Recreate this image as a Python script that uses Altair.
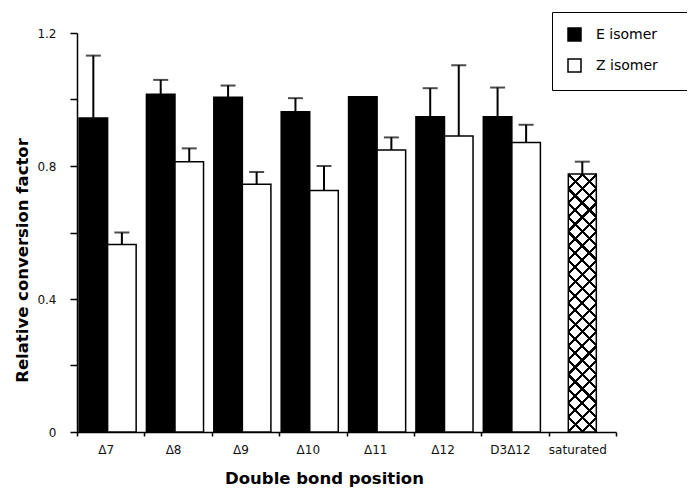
import altair as alt
import pandas as pd

# ---- data ----
positions = ["Δ7", "Δ8", "Δ9", "Δ10", "Δ11", "Δ12", "D3Δ12"]
e_values = [0.944, 1.016, 1.007, 0.963, 1.008, 0.948, 0.948]
e_upper = [1.132, 1.059, 1.042, 1.004, None, 1.034, 1.036]
z_values = [0.564, 0.813, 0.745, 0.726, 0.848, 0.890, 0.871]
z_upper = [0.600, 0.853, 0.782, 0.800, 0.886, 1.103, 0.924]
sat_label = ["saturated"]
sat_value = [0.776]
sat_upper = [0.813]
categories = positions + sat_label
isomers = ["E isomer", "Z isomer"]
y_ticks = [0.0, 0.1, 0.2, 0.3, 0.4, 0.5, 0.6, 0.7, 0.8, 0.9, 1.0, 1.1, 1.2]

rows = []
for p, v, u in zip(positions, e_values, e_upper):
    rows.append({"pos": p, "isomer": isomers[0], "value": v, "upper": u})
for p, v, u in zip(positions, z_values, z_upper):
    rows.append({"pos": p, "isomer": isomers[1], "value": v, "upper": u})
df = pd.DataFrame(rows)
sat_df = pd.DataFrame({"pos": sat_label, "value": sat_value, "upper": sat_upper})

FONT = "DejaVu Sans"
YTITLE = "Relative conversion factor"

# ---- crosshatch fill built from two striped gradients ----
def stripe_stops(n, lw, bg, fg):
    st = [(0.0, bg)]
    for k in range(n + 1):
        c = k / n
        s, e = max(0.0, c - lw / 2), min(1.0, c + lw / 2)
        st += [(s, bg), (s, fg), (e, fg), (e, bg)]
    st.append((1.0, bg))
    return [alt.GradientStop(offset=o, color=c) for o, c in st]

bw, bh = 28.0, 258.0
k = (bw + bh) / (bw * bw + bh * bh)
ga, gb = bw * k, bh * k
n_str, lw = 20, 0.011
grad1 = alt.LinearGradient(gradient="linear", x1=0, y1=1, x2=ga, y2=1 - gb,
                           stops=stripe_stops(n_str, lw, "white", "black"))
grad2 = alt.LinearGradient(gradient="linear", x1=0, y1=0, x2=ga, y2=gb,
                           stops=stripe_stops(n_str, lw, "rgba(0,0,0,0)", "black"))

# ---- encodings ----
x_enc = alt.X(
    "pos:N",
    sort=categories,
    scale=alt.Scale(domain=categories, paddingInner=0, paddingOuter=0),
    title="Double bond position",
    axis=alt.Axis(
        tickBand="extent", tickSize=4, tickColor="black", tickWidth=1.5,
        domainColor="black", domainWidth=1.5,
        labelAngle=0, labelOffset=-5, labelPadding=8, labelFontSize=12,
        labelColor="#111", labelFont=FONT,
        titleX=247, titleY=51, titleAlign="center", titleBaseline="alphabetic",
        titleFontSize=16.5, titleFontWeight="bold", titleColor="black", titleFont=FONT,
    ),
)
xoff = alt.XOffset(
    "isomer:N",
    scale=alt.Scale(domain=isomers, paddingInner=0, paddingOuter=0.18, align=0.2),
)
y_enc = alt.Y(
    "value:Q",
    scale=alt.Scale(domain=[0, 1.2], nice=False, zero=True),
    title=YTITLE,
    axis=alt.Axis(
        values=y_ticks, labelOverlap=False,
        labelExpr="round(datum.value*10) % 4 == 0 ? (datum.value == 0 ? '0' : format(datum.value, '.1f')) : ''",
        tickSize=7, tickColor="black", tickWidth=1.5,
        domainColor="black", domainWidth=1.5,
        labelPadding=14, labelFontSize=12, labelColor="#111", labelFont=FONT,
        grid=False,
        titleX=-50, titleY=227, titleAngle=270, titleAlign="center",
        titleBaseline="alphabetic", titleFontSize=16.5, titleFontWeight="bold",
        titleColor="black", titleFont=FONT,
    ),
)
y_plain = alt.Y("value:Q", title=YTITLE)
y_up = alt.Y("upper:Q", title=YTITLE)

blank = "\u2800" * 2
bars = alt.Chart(df).mark_bar(stroke="black", strokeWidth=1.5).encode(
    x=x_enc,
    xOffset=xoff,
    y=y_enc,
    fill=alt.Fill(
        "isomer:N",
        scale=alt.Scale(domain=isomers, range=["black", "white"]),
        title=None,
        legend=alt.Legend(
            orient="none", legendX=475, legendY=-21,
            symbolType="square", symbolSize=169,
            symbolStrokeColor="black", symbolStrokeWidth=1.5,
            labelFontSize=14, labelFont=FONT, labelColor="black",
            labelOffset=14, padding=15, rowPadding=12,
            strokeColor="black", fillColor="white",
            labelExpr="datum.label + '" + blank + "'",
        ),
    ),
)

rules = alt.Chart(df).transform_filter("isValid(datum.upper)").mark_rule(
    color="black", strokeWidth=2
).encode(x=x_enc, xOffset=xoff, y=y_plain, y2="upper:Q")

caps = alt.Chart(df).transform_filter("isValid(datum.upper)").mark_tick(
    color="black", size=15, thickness=2, orient="horizontal"
).encode(x=x_enc, xOffset=xoff, y=y_up)

sat_a = alt.Chart(sat_df).mark_bar(width=28, fill=grad1).encode(x=x_enc, y=y_plain)
sat_b = alt.Chart(sat_df).mark_bar(
    width=28, fill=grad2, stroke="black", strokeWidth=1.5
).encode(x=x_enc, y=y_plain)
sat_rule = alt.Chart(sat_df).mark_rule(color="black", strokeWidth=2).encode(
    x=x_enc, y=y_plain, y2="upper:Q"
)
sat_cap = alt.Chart(sat_df).mark_tick(
    color="black", size=15, thickness=2, orient="horizontal"
).encode(x=x_enc, y=y_up)

chart = (
    alt.layer(bars, sat_a, sat_b, rules, caps, sat_rule, sat_cap)
    .properties(
        width=539,
        height=399,
        padding={"left": 69, "top": 25, "right": 71, "bottom": 55},
        autosize=alt.AutoSizeParams(type="none"),
        background="white",
    )
    .configure(font=FONT)
    .configure_view(stroke="transparent", strokeWidth=0)
)

chart.save("out.html", embed_options={"renderer": "svg", "actions": False})
